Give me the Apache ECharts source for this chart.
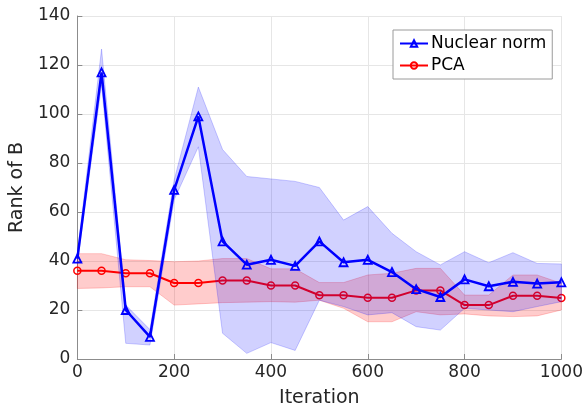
<!DOCTYPE html>
<html>
<head>
<meta charset="utf-8">
<script src="https://cdn.jsdelivr.net/npm/echarts@6/dist/echarts.min.js"></script>
<style>
html, body { margin: 0; padding: 0; background: #fff; }
#chart { width: 586px; height: 415px; }
</style>
</head>
<body>
<div id="chart"></div>
<script>
// iterations on the x axis
var iterations = [0, 50, 100, 150, 200, 250, 300, 350, 400, 450, 500,
                  550, 600, 650, 700, 750, 800, 850, 900, 950, 1000];

// Nuclear norm: mean and band
var nuclearMean  = [41, 117, 20, 9, 69, 99, 48, 38.5, 40.5, 38, 48,
                    39.5, 40.5, 35.5, 28.5, 25.3, 32.5, 29.7, 31.5, 30.8, 31.3];
var nuclearUpper = [43, 126.5, 22, 12, 73, 111, 85.5, 74.5, 73.5, 72.5, 70,
                    56.7, 62.2, 51.3, 43.8, 38.4, 43.8, 39.3, 43.4, 39, 38.8];
var nuclearLower = [39, 112, 6.4, 5.7, 65, 86.6, 10.5, 2.3, 6.7, 3.5, 24,
                    21.4, 18, 18.9, 13.2, 11.8, 20.7, 20, 19.3, 21.4, 23.4];

// PCA: mean and band
var pcaMean  = [36, 36, 35, 35, 31, 31, 32, 32, 30, 30, 26,
                26, 25, 25, 28, 28, 22, 22, 25.8, 25.8, 24.9];
var pcaUpper = [43, 43, 40.5, 40.2, 39.7, 40, 41, 41, 36.8, 36.8, 31.2,
                31.2, 34.3, 35, 37, 37, 26.1, 26.1, 34.3, 34.3, 30.9];
var pcaLower = [28.8, 29, 29.5, 29.5, 22, 22.5, 23, 23.2, 23.4, 23.2, 24,
                20.7, 15.2, 15.2, 19.3, 18, 18.4, 17.6, 17.3, 17.6, 20];

var xTicks = [0, 200, 400, 600, 800, 1000];
var yTicks = [0, 20, 40, 60, 80, 100, 120, 140];

function pairs(ys) {
    return iterations.map(function (x, i) { return [x, ys[i]]; });
}

// band polygon: upper edge left to right, lower edge back
function bandSeries(upper, lower, fill, edge, z) {
    return {
        type: 'custom',
        z: z,
        silent: true,
        data: [[0, 0]],
        renderItem: function (params, api) {
            var pts = [];
            for (var i = 0; i < iterations.length; i++) {
                pts.push(api.coord([iterations[i], upper[i]]));
            }
            for (var j = iterations.length - 1; j >= 0; j--) {
                pts.push(api.coord([iterations[j], lower[j]]));
            }
            return {
                type: 'polygon',
                shape: { points: pts },
                style: { fill: fill, stroke: edge, lineWidth: 0.8 }
            };
        }
    };
}

var chart = echarts.init(document.getElementById('chart'));

var font = 'DejaVu Sans';

chart.setOption({
    animation: false,
    textStyle: { fontFamily: font },
    grid: { left: 77, right: 24, top: 16, bottom: 56 },
    legend: {
        orient: 'vertical',
        left: 393,
        top: 30,
        width: 156,
        padding: [5, 6, 5, 6],
        itemGap: 5,
        itemWidth: 28,
        itemHeight: 8,
        borderColor: '#9a9a9a',
        borderWidth: 1,
        borderRadius: 0,
        backgroundColor: '#fff',
        textStyle: { fontFamily: font, fontSize: 17, color: '#000', padding: [0, 0, 0, -2] },
        data: ['Nuclear norm', 'PCA']
    },
    xAxis: {
        type: 'value',
        min: 0,
        max: 1000,
        interval: 200,
        name: 'Iteration',
        nameLocation: 'middle',
        nameGap: 30,
        nameTextStyle: { fontFamily: font, fontSize: 19, color: '#262626' },
        axisLine: { lineStyle: { color: '#8c8c8c', width: 1 } },
        axisTick: { inside: true, length: 5, lineStyle: { color: '#8c8c8c' } },
        axisLabel: {
            fontFamily: font, fontSize: 17, color: '#262626', margin: 5,
            formatter: function (v) { return xTicks.indexOf(v) >= 0 ? String(v) : ''; }
        },
        splitLine: { show: true, lineStyle: { color: '#e6e6e6', width: 1 } }
    },
    yAxis: {
        type: 'value',
        min: 0,
        max: 140,
        interval: 20,
        name: 'Rank of B',
        nameLocation: 'middle',
        nameGap: 40,
        nameTextStyle: { fontFamily: font, fontSize: 19, color: '#262626' },
        axisLine: { show: true, lineStyle: { color: '#8c8c8c', width: 1 } },
        axisTick: { show: true, inside: true, length: 5, lineStyle: { color: '#8c8c8c' } },
        axisLabel: {
            fontFamily: font, fontSize: 17, color: '#262626', margin: 7,
            formatter: function (v) { return yTicks.indexOf(v) >= 0 ? String(v) : ''; }
        },
        splitLine: { show: true, lineStyle: { color: '#e6e6e6', width: 1 } }
    },
    series: [
        bandSeries(pcaUpper, pcaLower, 'rgba(255,0,0,0.2)', 'rgba(255,0,0,0.25)', 1),
        {
            name: 'PCA',
            type: 'line',
            z: 2,
            data: pairs(pcaMean),
            symbol: 'circle',
            symbolSize: 7,
            showAllSymbol: true,
            lineStyle: { color: '#ff0000', width: 2 },
            itemStyle: { color: 'rgba(255,255,255,0)', borderColor: '#ff0000', borderWidth: 1.5 }
        },
        bandSeries(nuclearUpper, nuclearLower, 'rgba(0,0,255,0.18)', 'rgba(0,0,255,0.25)', 3),
        {
            name: 'Nuclear norm',
            type: 'line',
            z: 4,
            data: pairs(nuclearMean),
            symbol: 'triangle',
            symbolSize: 8,
            showAllSymbol: true,
            lineStyle: { color: '#0000ff', width: 2.5 },
            itemStyle: { color: 'rgba(255,255,255,0)', borderColor: '#0000ff', borderWidth: 1.8 }
        }
    ]
});
</script>
</body>
</html>
